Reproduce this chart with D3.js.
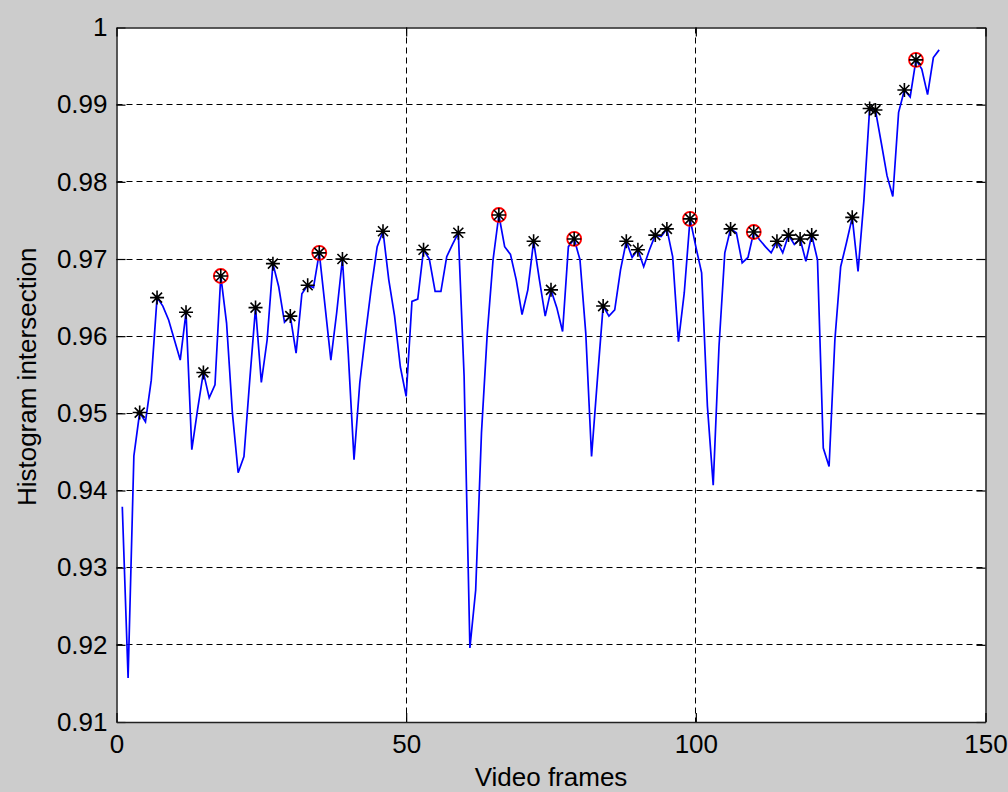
<!DOCTYPE html>
<html>
<head>
<meta charset="utf-8">
<script src="https://cdn.jsdelivr.net/npm/d3@7"></script>
<style>
	body { margin: 0; background: #cccccc; }
	svg { display: block; }
	text { font-family: "Liberation Sans", Arial, sans-serif; fill: #000; }
</style>
</head>
<body>
<div id="draw"></div>
<script>
// histogram intersection per frame, frame number = index + 1
var frameValues = [
	0.9379, 0.9157, 0.9445, 0.9501, 0.9489, 0.9543, 0.9650, 0.9639, 0.9621, 0.9595,
	0.9569, 0.9631, 0.9453, 0.9505, 0.9553, 0.9520, 0.9537, 0.9678, 0.9617, 0.9501,
	0.9423, 0.9444, 0.9543, 0.9637, 0.9540, 0.9595, 0.9694, 0.9664, 0.9618, 0.9626,
	0.9578, 0.9655, 0.9666, 0.9663, 0.9708, 0.9639, 0.9569, 0.9630, 0.9700, 0.9578,
	0.9440, 0.9540, 0.9604, 0.9664, 0.9716, 0.9736, 0.9673, 0.9626, 0.9560, 0.9522,
	0.9645, 0.9648, 0.9712, 0.9700, 0.9658, 0.9658, 0.9703, 0.9719, 0.9734, 0.9548,
	0.9196, 0.9271, 0.9475, 0.9604, 0.9699, 0.9757, 0.9716, 0.9706, 0.9673, 0.9628,
	0.9660, 0.9723, 0.9673, 0.9626, 0.9660, 0.9637, 0.9606, 0.9716, 0.9726, 0.9699,
	0.9604, 0.9444, 0.9543, 0.9639, 0.9626, 0.9634, 0.9686, 0.9723, 0.9702, 0.9712,
	0.9690, 0.9712, 0.9731, 0.9729, 0.9739, 0.9703, 0.9593, 0.9656, 0.9752, 0.9716,
	0.9682, 0.9509, 0.9407, 0.9587, 0.9708, 0.9739, 0.9734, 0.9695, 0.9702, 0.9735,
	0.9725, 0.9716, 0.9708, 0.9723, 0.9708, 0.9731, 0.9719, 0.9726, 0.9697, 0.9731,
	0.9699, 0.9455, 0.9431, 0.9595, 0.9690, 0.9721, 0.9754, 0.9684, 0.9775, 0.9895,
	0.9893, 0.9851, 0.9808, 0.9781, 0.9890, 0.9919, 0.9910, 0.9958, 0.9946, 0.9913,
	0.9961, 0.9971
];
// frames marked with a star (local peaks) and the ones also circled in red
var starFrames = [4, 7, 12, 15, 18, 24, 27, 30, 33, 35, 39, 46, 53, 59, 66, 72, 75, 79, 84,
	88, 90, 93, 95, 99, 106, 110, 114, 116, 118, 120, 127, 130, 131, 136, 138];
var redFrames = [18, 35, 66, 79, 99, 110, 138];
var xTicks = [0, 50, 100, 150];
var yTicks = [0.91, 0.92, 0.93, 0.94, 0.95, 0.96, 0.97, 0.98, 0.99, 1];
var yTickLabels = ["0.91", "0.92", "0.93", "0.94", "0.95", "0.96", "0.97", "0.98", "0.99", "1"];

var width = 1008, height = 792;
var plotLeft = 116.5, plotRight = 985.5, plotTop = 27.5, plotBottom = 722;
var tickLen = 9;

var x = d3.scaleLinear().domain([0, 150]).range([plotLeft, plotRight]);
var y = d3.scaleLinear().domain([0.91, 1]).range([plotBottom, plotTop]);

// snap a grid position onto a pixel centre so 1px lines stay sharp
function snap(v){ return Math.floor(v) + 0.5; }

var svg = d3.select("#draw").append("svg")
	.attr("width", width)
	.attr("height", height);

svg.append("rect")
	.attr("width", width)
	.attr("height", height)
	.attr("fill", "#cccccc");

svg.append("rect")
	.attr("x", plotLeft)
	.attr("y", plotTop)
	.attr("width", plotRight - plotLeft)
	.attr("height", plotBottom - plotTop)
	.attr("fill", "#ffffff");

// dashed grid
svg.append("g").selectAll("line")
	.data(xTicks.slice(1, -1))
	.enter()
	.append("line")
	.attr("x1", function(d){ return snap(x(d)); })
	.attr("x2", function(d){ return snap(x(d)); })
	.attr("y1", plotTop)
	.attr("y2", plotBottom)
	.attr("stroke", "#000")
	.attr("stroke-width", 1)
	.attr("stroke-dasharray", "6,4");

svg.append("g").selectAll("line")
	.data(yTicks.slice(1, -1))
	.enter()
	.append("line")
	.attr("x1", plotLeft)
	.attr("x2", plotRight)
	.attr("y1", function(d){ return snap(y(d)); })
	.attr("y2", function(d){ return snap(y(d)); })
	.attr("stroke", "#000")
	.attr("stroke-width", 1)
	.attr("stroke-dasharray", "6,4");

// axes with inward ticks on all four sides
var fmtY = function(d, i){ return yTickLabels[i]; };

svg.append("g")
	.attr("transform", "translate(" + plotLeft + ",0)")
	.call(d3.axisLeft(y).tickValues(yTicks).tickFormat(fmtY)
		.tickSizeInner(-tickLen).tickSizeOuter(0).tickPadding(9));
svg.append("g")
	.attr("transform", "translate(" + plotRight + ",0)")
	.call(d3.axisRight(y).tickValues(yTicks).tickFormat("")
		.tickSizeInner(-tickLen).tickSizeOuter(0));
svg.append("g")
	.attr("transform", "translate(0," + plotBottom + ")")
	.call(d3.axisBottom(x).tickValues(xTicks).tickFormat(d3.format("d"))
		.tickSizeInner(-tickLen).tickSizeOuter(0).tickPadding(13));
svg.append("g")
	.attr("transform", "translate(0," + plotTop + ")")
	.call(d3.axisTop(x).tickValues(xTicks).tickFormat("")
		.tickSizeInner(-tickLen).tickSizeOuter(0));

svg.selectAll(".tick text")
	.style("font-size", "26px")
	.attr("fill", "#000");
svg.selectAll(".tick line")
	.attr("stroke", "#000")
	.attr("stroke-width", 1.2);
svg.selectAll(".domain")
	.attr("stroke", "#222")
	.attr("stroke-width", 1.5);

// data line
var line = d3.line()
	.x(function(d, i){ return x(i + 1); })
	.y(function(d){ return y(d); });

svg.append("path")
	.datum(frameValues)
	.attr("d", line)
	.attr("fill", "none")
	.attr("stroke", "#0000ff")
	.attr("stroke-width", 1.7);

// red circles under the stars
svg.append("g").selectAll("circle")
	.data(redFrames)
	.enter()
	.append("circle")
	.attr("cx", function(d){ return x(d); })
	.attr("cy", function(d){ return y(frameValues[d - 1]); })
	.attr("r", 7)
	.attr("fill", "none")
	.attr("stroke", "#ff0000")
	.attr("stroke-width", 1.8);

// matlab style '*' marker
var starPath = "M-7,0H7M0,-7V7M-5,-5L5,5M-5,5L5,-5";
svg.append("g").selectAll("path")
	.data(starFrames)
	.enter()
	.append("path")
	.attr("transform", function(d){
		return "translate(" + x(d) + "," + y(frameValues[d - 1]) + ")";
	})
	.attr("d", starPath)
	.attr("fill", "none")
	.attr("stroke", "#000")
	.attr("stroke-width", 1.6);

// axis labels
svg.append("text")
	.attr("x", (plotLeft + plotRight) / 2)
	.attr("y", 786)
	.attr("text-anchor", "middle")
	.style("font-size", "26px")
	.text("Video frames");

svg.append("text")
	.attr("transform", "translate(36," + ((plotTop + plotBottom) / 2 + 2) + ") rotate(-90)")
	.attr("text-anchor", "middle")
	.style("font-size", "26px")
	.text("Histogram intersection");
</script>
</body>
</html>
